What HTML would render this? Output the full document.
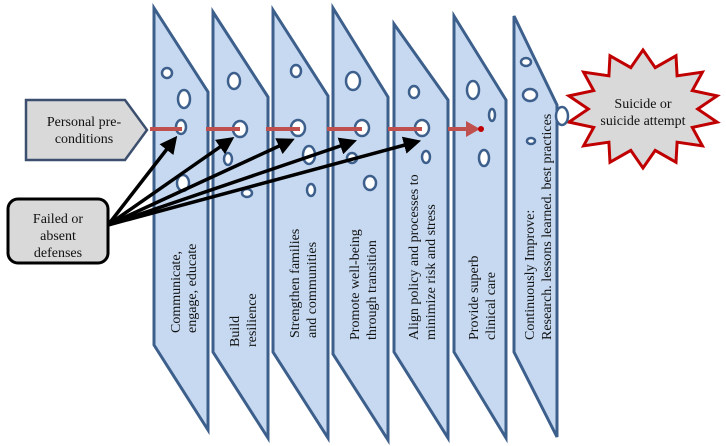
<!DOCTYPE html>
<html><head><meta charset="utf-8"><style>
html,body{margin:0;padding:0;background:#fff;}
svg{display:block;}
svg text{font-family:"Liberation Serif","Times New Roman","DejaVu Serif",serif;font-size:14px;fill:#111;}
</style></head><body>
<svg width="726" height="446" viewBox="0 0 726 446" xmlns="http://www.w3.org/2000/svg" font-family="Liberation Serif, serif">
<defs>
<marker id="ab" markerWidth="5" markerHeight="5" refX="3.5" refY="2.5" orient="auto" markerUnits="strokeWidth"><path d="M0,0 L5,2.5 L0,5 Z" fill="#000"/></marker>
</defs>
<g fill="#c6d9f1" stroke="#3d5f8c" stroke-width="3" stroke-linejoin="miter">
<polygon points="154,8 208,92 208,430 154,345"/>
<polygon points="213,12 268,97 268,438 213,352"/>
<polygon points="273,10 328,96 328,438 273,352"/>
<polygon points="333,8 388,97 388,440 333,354"/>
<polygon points="394,24 448,100 448,438 394,352"/>
<polygon points="454,16 506,100 506,438 454,352"/>
<polygon points="514,16 557,105 557,437 514,352"/>
</g>
<g fill="#fff" stroke="#3d5f8c" stroke-width="2.5">
<ellipse cx="167" cy="73" rx="5" ry="5"/><ellipse cx="184" cy="99" rx="6" ry="9"/><ellipse cx="181" cy="127" rx="5" ry="7"/><ellipse cx="183" cy="183" rx="6" ry="8"/>
<ellipse cx="234" cy="81" rx="6" ry="8"/><ellipse cx="240" cy="129" rx="7" ry="8"/><ellipse cx="228" cy="159" rx="4" ry="6"/><ellipse cx="247" cy="193" rx="5" ry="4"/>
<ellipse cx="296" cy="71" rx="5" ry="6"/><ellipse cx="298" cy="128" rx="7" ry="8"/><ellipse cx="309" cy="155" rx="6" ry="9"/><ellipse cx="311" cy="190" rx="4" ry="6"/>
<ellipse cx="353" cy="81" rx="7" ry="9"/><ellipse cx="362" cy="128" rx="7" ry="8"/><ellipse cx="352" cy="158" rx="5" ry="5"/><ellipse cx="370" cy="183" rx="6" ry="7"/>
<ellipse cx="414" cy="92" rx="5" ry="6"/><ellipse cx="422" cy="128" rx="7" ry="8"/><ellipse cx="426" cy="157" rx="4" ry="6"/>
<ellipse cx="473" cy="90" rx="6" ry="9"/><ellipse cx="492" cy="115" rx="3" ry="6"/><ellipse cx="484" cy="158" rx="5" ry="8"/>
<ellipse cx="526" cy="62" rx="5" ry="4"/><ellipse cx="530" cy="95" rx="7" ry="6"/><ellipse cx="531" cy="141" rx="4" ry="3"/>
</g>
<g stroke="#c0504d" stroke-width="4">
<line x1="150" y1="129" x2="182" y2="129"/><line x1="206" y1="129" x2="240" y2="129"/><line x1="266" y1="129" x2="300" y2="129"/><line x1="327" y1="129" x2="362" y2="129"/><line x1="388" y1="129" x2="422" y2="129"/><line x1="448" y1="129" x2="468" y2="129"/>
</g>
<polygon points="466,121 480,129 466,137" fill="#c0504d"/>
<circle cx="481" cy="129" r="3" fill="#c00000"/>
<polygon id="star" fill="#d9d9d9" stroke="#c00000" stroke-width="3" points=""/>
<ellipse cx="562" cy="116" rx="6" ry="9" fill="#fff" stroke="#3d5f8c" stroke-width="2.5"/>
<text x="643" y="108" text-anchor="middle">Suicide or</text>
<text x="643" y="125" text-anchor="middle">suicide attempt</text>
<polygon points="26,100 125,100 147,130 125,160 26,160" fill="#d9d9d9" stroke="#3d4f6e" stroke-width="2.5"/>
<text x="84" y="126" text-anchor="middle">Personal pre-</text>
<text x="84" y="143" text-anchor="middle">conditions</text>
<g stroke="#000" stroke-width="3.5" fill="none">
<line x1="108" y1="225" x2="174" y2="140" marker-end="url(#ab)"/>
<line x1="108" y1="225" x2="230" y2="140" marker-end="url(#ab)"/>
<line x1="108" y1="225" x2="290" y2="141" marker-end="url(#ab)"/>
<line x1="108" y1="225" x2="352" y2="142" marker-end="url(#ab)"/>
<line x1="108" y1="225" x2="416" y2="142" marker-end="url(#ab)"/>
</g>
<rect x="8" y="199" width="100" height="64" rx="10" fill="#d9d9d9" stroke="#000" stroke-width="3"/>
<text x="58" y="223" text-anchor="middle">Failed or</text>
<text x="58" y="240" text-anchor="middle">absent</text>
<text x="58" y="257" text-anchor="middle">defenses</text>
<g>
<text transform="translate(180,333) rotate(-90)">Communicate,</text>
<text transform="translate(196,333) rotate(-90)">engage, educate</text>
<text transform="translate(239,347) rotate(-90)">Build</text>
<text transform="translate(256,347) rotate(-90)">resilience</text>
<text transform="translate(299,338) rotate(-90)">Strengthen families</text>
<text transform="translate(316,338) rotate(-90)">and communities</text>
<text transform="translate(359,340) rotate(-90)">Promote well-being</text>
<text transform="translate(376,340) rotate(-90)">through transition</text>
<text transform="translate(418,340) rotate(-90)">Align policy and processes to</text>
<text transform="translate(435,340) rotate(-90)">minimize risk and stress</text>
<text transform="translate(478,340) rotate(-90)">Provide superb</text>
<text transform="translate(495,340) rotate(-90)">clinical care</text>
<text transform="translate(534,340) rotate(-90)">Continuously Improve:</text>
<text transform="translate(551,340) rotate(-90)">Research. lessons learned. best practices</text>
</g>
</svg>
<script>
(function(){var cx=643,cy=109,rx=76,ry=59,n=14,p=[];for(var i=0;i<2*n;i++){var a=-Math.PI/2+i*Math.PI/n;var f=i%2?0.72:1;p.push((cx+rx*f*Math.cos(a)).toFixed(1)+","+(cy+ry*f*Math.sin(a)).toFixed(1));}document.getElementById("star").setAttribute("points",p.join(" "));})();
</script>
</body></html>
